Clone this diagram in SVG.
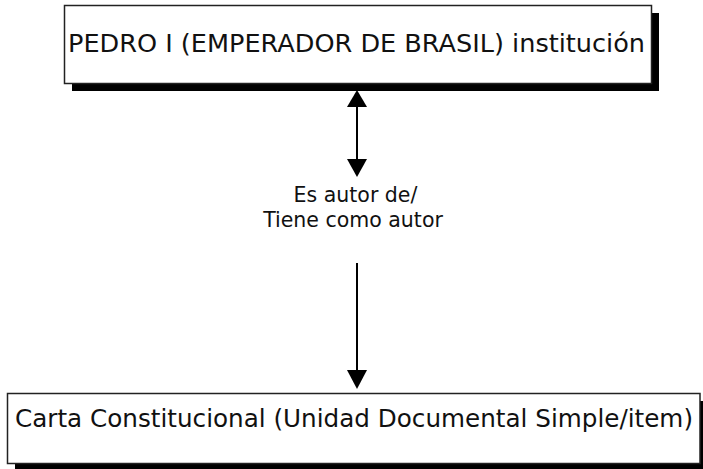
<svg xmlns="http://www.w3.org/2000/svg" width="703" height="469" viewBox="0 0 703 469">
<defs>
<style>
.shadow{fill:#000}
.box{fill:#fff;stroke:#222;stroke-width:1.5}
.t{font-family:"DejaVu Sans",Verdana,sans-serif;fill:#111}
.line{stroke:#000;stroke-width:2;fill:none}
.head{fill:#000}
</style>
</defs>
<rect width="703" height="469" fill="#fff"/>
<g id="node-pedro">
<rect class="shadow" x="72" y="13" width="587" height="78"/>
<rect class="box" x="64.5" y="5.5" width="587" height="78"/>
<text class="t" x="356.5" y="52" font-size="25.5" text-anchor="middle" textLength="577" lengthAdjust="spacingAndGlyphs">PEDRO I (EMPERADOR DE BRASIL) institución</text>
</g>
<g id="node-carta">
<rect class="shadow" x="15" y="401" width="700" height="70"/>
<rect class="box" x="7.5" y="393.5" width="692.5" height="70"/>
<text class="t" x="354" y="427" font-size="24.5" text-anchor="middle" textLength="678" lengthAdjust="spacingAndGlyphs">Carta Constitucional (Unidad Documental Simple/item)</text>
</g>
<g id="connectors">
<line class="line" x1="357" y1="104" x2="357" y2="162"/>
<polygon class="head" points="357,90 347,107 367,107"/>
<polygon class="head" points="357,177 347,159 367,159"/>
<line class="line" x1="357" y1="263" x2="357" y2="372"/>
<polygon class="head" points="357,389 347,370 367,370"/>
<text class="t" x="355.5" y="202" font-size="20.5" text-anchor="middle">Es autor de/</text>
<text class="t" x="353" y="227" font-size="20.5" text-anchor="middle">Tiene como autor</text>
</g>
</svg>
